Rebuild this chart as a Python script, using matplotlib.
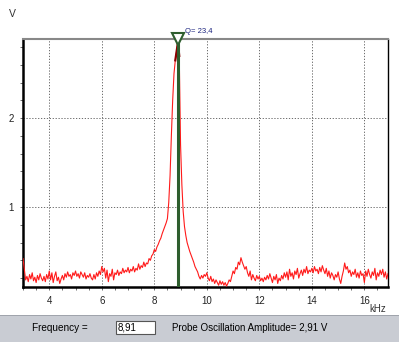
import numpy as np
import matplotlib.pyplot as plt
from matplotlib.patches import Rectangle
from matplotlib.ticker import MultipleLocator

plt.rcParams['font.family'] = ['Liberation Sans', 'DejaVu Sans']

# frequency sweep 3.00 .. 16.90 kHz, 0.05 kHz step
freq = np.linspace(3.0, 16.9, 279)

amp = [
    # 3 kHz
    0.42, 0.30, 0.18, 0.22, 0.16, 0.24, 0.19, 0.26, 0.17, 0.21, 0.15, 0.23, 0.18, 0.25, 0.20, 0.17, 0.22, 0.16, 0.24, 0.19,
    # 4
    0.28, 0.18, 0.26, 0.15, 0.22, 0.27, 0.17, 0.21, 0.14, 0.19, 0.23, 0.18, 0.25, 0.21, 0.27, 0.22, 0.24, 0.19, 0.26, 0.23,
    # 5
    0.28, 0.22, 0.25, 0.20, 0.27, 0.24, 0.21, 0.26, 0.19, 0.23, 0.21, 0.25, 0.20, 0.18, 0.24, 0.19, 0.26, 0.22, 0.28, 0.24,
    # 6
    0.33, 0.27, 0.31, 0.20, 0.29, 0.16, 0.25, 0.22, 0.30, 0.18, 0.26, 0.24, 0.29, 0.23, 0.27, 0.25, 0.31, 0.26, 0.29, 0.27,
    # 7
    0.32, 0.26, 0.30, 0.28, 0.33, 0.27, 0.31, 0.29, 0.36, 0.30, 0.34, 0.32, 0.38, 0.33, 0.37, 0.36, 0.42, 0.40, 0.45, 0.47,
    # 8
    0.52, 0.50, 0.55, 0.58, 0.62, 0.65, 0.70, 0.74, 0.78, 0.82, 0.87, 1.05, 1.35, 1.80, 2.20, 2.50, 2.65, 2.75, 2.85, 2.70,
    # 9
    1.70, 1.25, 0.95, 0.78, 0.68, 0.60, 0.55, 0.50, 0.46, 0.42, 0.38, 0.33, 0.30, 0.27, 0.22, 0.19, 0.23, 0.20, 0.24, 0.22,
    # 10
    0.26, 0.20, 0.17, 0.22, 0.16, 0.19, 0.14, 0.18, 0.15, 0.12, 0.17, 0.13, 0.16, 0.12, 0.15, 0.11, 0.14, 0.18, 0.16, 0.22,
    # 11
    0.28, 0.25, 0.32, 0.30, 0.38, 0.35, 0.43, 0.38, 0.34, 0.30, 0.33, 0.26, 0.22, 0.28, 0.18, 0.24, 0.20, 0.17, 0.23, 0.19,
    # 12
    0.22, 0.17, 0.20, 0.16, 0.21, 0.18, 0.23, 0.19, 0.25, 0.20, 0.15, 0.22, 0.18, 0.24, 0.14, 0.20, 0.17, 0.23, 0.19, 0.26,
    # 13
    0.21, 0.27, 0.18, 0.30, 0.22, 0.26, 0.19, 0.28, 0.24, 0.31, 0.20, 0.25, 0.29, 0.23, 0.30, 0.26, 0.33, 0.25, 0.29, 0.27,
    # 14
    0.31, 0.26, 0.33, 0.28, 0.30, 0.25, 0.32, 0.27, 0.34, 0.29, 0.25, 0.31, 0.22, 0.28, 0.20, 0.26, 0.23, 0.18, 0.24, 0.21,
    # 15
    0.27, 0.19, 0.14, 0.22, 0.28, 0.37, 0.30, 0.33, 0.26, 0.29, 0.22, 0.27, 0.24, 0.30, 0.21, 0.26, 0.20, 0.28, 0.23, 0.25,
    # 16
    0.15, 0.28, 0.22, 0.30, 0.24, 0.20, 0.27, 0.23, 0.31, 0.18, 0.26, 0.22, 0.29, 0.24, 0.30, 0.21, 0.27, 0.19, 0.25,
]
amp = np.array(amp)

f_res = 8.91
q_factor = "23,4"
amp_res = "2,91"
xticks = [4, 6, 8, 10, 12, 14, 16]
yticks = [1, 2]

W, H = 399, 342
fig = plt.figure(figsize=(W/100, H/100), dpi=100)
fig.patch.set_facecolor('white')

ax = fig.add_axes([23/W, 1-287/H, (388-23)/W, (287-39)/H])
ax.set_xlim(3.0, 16.9)
ax.set_ylim(0.1, 2.89)

ax.plot(freq, amp, color='#ff1a1a', lw=0.8, zorder=3)
pk = amp > 2.6
ax.plot(freq[pk], amp[pk], color='#8b0000', lw=1.6, zorder=3)
ax.axvline(f_res, color='#2e5e2e', lw=2.2, zorder=4)
ax.plot([f_res], [2.89], marker='v', ms=8, mfc='white', mec='#2e5e2e', mew=1.5,
        clip_on=False, zorder=6)
ax.text(f_res + 0.25, 2.93, 'Q= ' + q_factor, fontsize=5.5, color='#1a237e',
        transform=ax.transData, va='bottom', ha='left')

ax.set_xticks(xticks)
ax.set_yticks(yticks)
ax.xaxis.set_minor_locator(MultipleLocator(0.5))
ax.yaxis.set_minor_locator(MultipleLocator(0.2))
ax.tick_params(which='both', direction='out', length=2.5, width=0.6, color='#555555',
               labelsize=7, labelcolor='#222222', pad=4)
ax.grid(True, which='major', color='#555555', ls=(0, (1.5, 2)), lw=0.6)

for s in ['left', 'bottom']:
    ax.spines[s].set_linewidth(1.8)
    ax.spines[s].set_color('black')
ax.spines['top'].set_color('#888888')
ax.spines['top'].set_linewidth(1.5)
ax.spines['right'].set_color('black')
ax.spines['right'].set_linewidth(1.0)

fig.text(9/W, 1-14/H, 'V', fontsize=7.5, color='#333333', va='center')
fig.text(386/W, 1-309/H, 'kHz', fontsize=7, color='#333333', va='center', ha='right')

# bottom status panel
fig.patches.append(Rectangle((0, 0), 1, 27/H, transform=fig.transFigure,
                             facecolor='#c9ccd3', edgecolor='none', zorder=0))
fig.patches.append(Rectangle((0, 26/H), 1, 1.2/H, transform=fig.transFigure,
                             facecolor='#a0a4ac', edgecolor='none', zorder=0))
fig.patches.append(Rectangle((116/W, 8/H), 39/W, 13/H, transform=fig.transFigure,
                             facecolor='white', edgecolor='#555555', lw=0.8, zorder=1))
fig.text(32/W, 1-328/H, 'Frequency =', fontsize=7.2, color='black', va='center')
fig.text(118/W, 1-328/H, '8,91', fontsize=7, color='black', va='center')
fig.text(172/W, 1-328/H, 'Probe Oscillation Amplitude= ' + amp_res + ' V',
         fontsize=7, color='black', va='center')

fig.savefig('out.png', dpi=100)
